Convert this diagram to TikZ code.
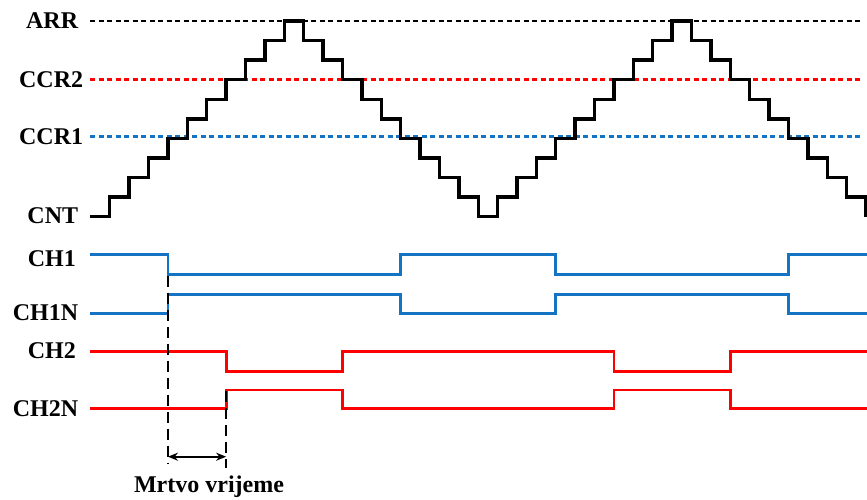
\documentclass[tikz,border=0pt]{standalone}
\usepackage{fontspec}
\setmainfont{Liberation Serif}
\usetikzlibrary{arrows.meta}
\definecolor{sigblue}{RGB}{20,115,195}
\definecolor{sigred}{RGB}{255,0,0}
\begin{document}
\begin{tikzpicture}[x=1pt,y=-1pt,
  lbl/.style={font=\bfseries\fontsize{24}{28}\selectfont, anchor=base east, inner sep=0pt},
  note/.style={font=\bfseries\fontsize{24}{28}\selectfont, anchor=base, inner sep=0pt},
  level/.style={line width=2.7pt, dash pattern=on 5pt off 3.5pt},
  counter/.style={line width=3.4pt, black, line join=miter},
  trace/.style={line width=2.8pt, line join=miter},
  guide/.style={line width=1.5pt, black, dash pattern=on 11pt off 6pt},
  span/.style={line width=1.8pt, black, {Stealth[length=10pt,width=8pt]}-{Stealth[length=10pt,width=8pt]}}
]
\useasboundingbox (0,0) rectangle (867,500);

% counter geometry: step width, step height, first peak, base level
\def\w{19.39}
\def\h{19.57}
\def\xp{294}
\def\yb{216.7}

% switching instants (compare events of CCR1 and CCR2)
\pgfmathsetmacro{\eA}{\xp-6.5*\w}
\pgfmathsetmacro{\eB}{\xp+5.5*\w}
\pgfmathsetmacro{\eC}{\xp+13.5*\w}
\pgfmathsetmacro{\eD}{\xp+25.5*\w}
\pgfmathsetmacro{\fA}{\xp-3.5*\w}
\pgfmathsetmacro{\fB}{\xp+2.5*\w}
\pgfmathsetmacro{\fC}{\xp+16.5*\w}
\pgfmathsetmacro{\fD}{\xp+22.5*\w}

% row labels
\node[lbl] (arr)  at (78.3,28.8)  {ARR};
\node[lbl] (ccr2) at (83.3,87.3)  {CCR2};
\node[lbl] (ccr1) at (83.3,145)   {CCR1};
\node[lbl] (cnt)  at (78.3,223)   {CNT};
\node[lbl] (ch1)  at (76,266)     {CH1};
\node[lbl] (ch1n) at (78.3,320)   {CH1N};
\node[lbl] (ch2)  at (76,358.3)   {CH2};
\node[lbl] (ch2n) at (78.3,416.7) {CH2N};

% compare levels
\draw[level, black]   (90,21)    -- (863,21);
\draw[level, sigred]  (90,79.3)  -- (863,79.3);
\draw[level, sigblue] (90,136.7) -- (863,136.7);

% up/down counter staircase
\draw[counter] (90,\yb)
  \foreach \L in {1,2,...,10} { -| ({\xp-(10.5-\L)*\w},{\yb-\L*\h}) }
  \foreach \L in {9,8,...,0}  { -| ({\xp+(9.5-\L)*\w},{\yb-\L*\h}) }
  \foreach \L in {1,2,...,10} { -| ({\xp+(9.5+\L)*\w},{\yb-\L*\h}) }
  \foreach \L in {9,8,...,0}  { -| ({\xp+(29.5-\L)*\w},{\yb-\L*\h}) };

% complementary outputs, channel 1
\draw[trace, sigblue] (90,254.3) -| (\eA,274.3) -| (\eB,254.3) -| (\eC,274.3) -| (\eD,254.3) -- (867,254.3);
\draw[trace, sigblue] (90,313.3) -| (\eA,294.3) -| (\eB,313.3) -| (\eC,294.3) -| (\eD,313.3) -- (867,313.3);

% complementary outputs, channel 2
\draw[trace, sigred] (90,351.7) -| (\fA,371.7) -| (\fB,351.7) -| (\fC,371.7) -| (\fD,351.7) -- (867,351.7);
\draw[trace, sigred] (90,408.3) -| (\fA,390) -| (\fB,408.3) -| (\fC,390) -| (\fD,408.3) -- (867,408.3);

% dead-time markers
\coordinate (gA) at (\eA,275.5);
\coordinate (gAend) at (\eA,463);
\coordinate (gB) at (\fA,391);
\coordinate (gBend) at (\fA,468);
\coordinate (dtA) at (\eA,456.7);
\coordinate (dtB) at (\fA,456.7);
\draw[guide] (gA) -- (gAend);
\draw[guide] (gB) -- (gBend);
\draw[span] (dtA) -- (dtB);
\node[note] (dt) at (209,492.3) {Mrtvo vrijeme};
\end{tikzpicture}
\end{document}
